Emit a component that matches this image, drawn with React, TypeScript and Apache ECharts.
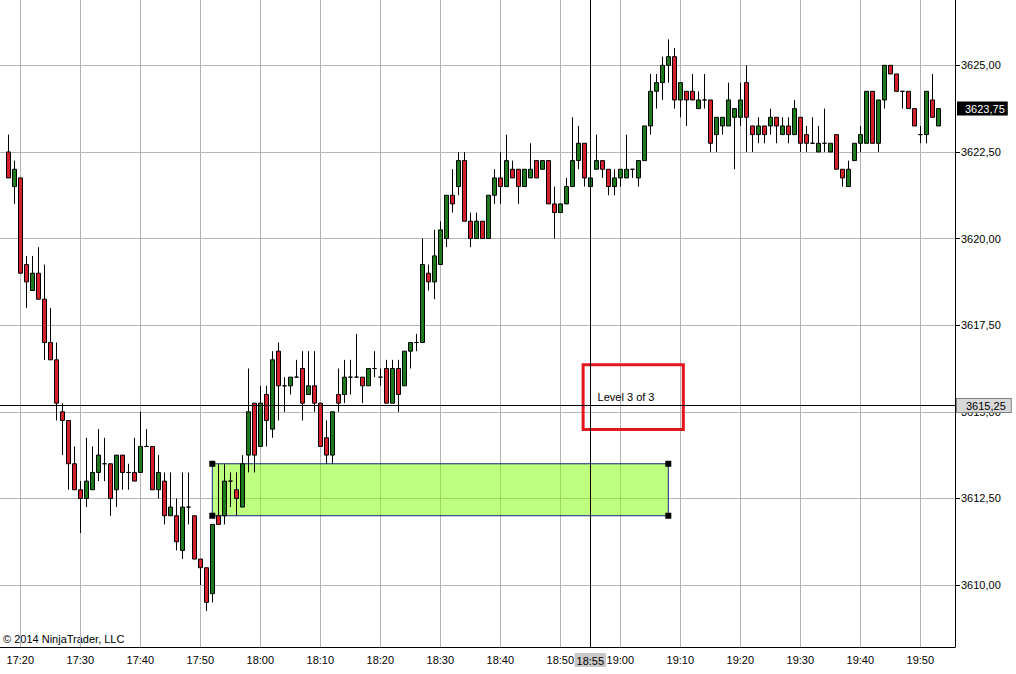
import React, { useEffect, useRef } from 'react';
import * as echarts from 'echarts';

// 1-minute bars, 17:18 .. 19:53
const times: string[] = [
  '17:18', '17:19',
  '17:20', '17:21', '17:22', '17:23', '17:24', '17:25', '17:26', '17:27', '17:28', '17:29',
  '17:30', '17:31', '17:32', '17:33', '17:34', '17:35', '17:36', '17:37', '17:38', '17:39',
  '17:40', '17:41', '17:42', '17:43', '17:44', '17:45', '17:46', '17:47', '17:48', '17:49',
  '17:50', '17:51', '17:52', '17:53', '17:54', '17:55', '17:56', '17:57', '17:58', '17:59',
  '18:00', '18:01', '18:02', '18:03', '18:04', '18:05', '18:06', '18:07', '18:08', '18:09',
  '18:10', '18:11', '18:12', '18:13', '18:14', '18:15', '18:16', '18:17', '18:18', '18:19',
  '18:20', '18:21', '18:22', '18:23', '18:24', '18:25', '18:26', '18:27', '18:28', '18:29',
  '18:30', '18:31', '18:32', '18:33', '18:34', '18:35', '18:36', '18:37', '18:38', '18:39',
  '18:40', '18:41', '18:42', '18:43', '18:44', '18:45', '18:46', '18:47', '18:48', '18:49',
  '18:50', '18:51', '18:52', '18:53', '18:54', '18:55', '18:56', '18:57', '18:58', '18:59',
  '19:00', '19:01', '19:02', '19:03', '19:04', '19:05', '19:06', '19:07', '19:08', '19:09',
  '19:10', '19:11', '19:12', '19:13', '19:14', '19:15', '19:16', '19:17', '19:18', '19:19',
  '19:20', '19:21', '19:22', '19:23', '19:24', '19:25', '19:26', '19:27', '19:28', '19:29',
  '19:30', '19:31', '19:32', '19:33', '19:34', '19:35', '19:36', '19:37', '19:38', '19:39',
  '19:40', '19:41', '19:42', '19:43', '19:44', '19:45', '19:46', '19:47', '19:48', '19:49',
  '19:50', '19:51', '19:52', '19:53',
];

const opens: number[] = [
  3622.5, 3621.5,
  3621.75, 3619.25, 3618.5, 3619.0, 3618.25, 3617.0, 3616.5, 3615.0, 3614.75, 3613.5,
  3612.75, 3612.5, 3612.75, 3613.25, 3613.5, 3613.5, 3612.75, 3613.75, 3613.25, 3613.25,
  3613.25, 3614.0, 3614.0, 3612.75, 3613.0, 3612.0, 3612.0, 3611.0, 3612.25, 3612.0,
  3610.75, 3610.5, 3609.75, 3612.0, 3612.0, 3613.0, 3612.75, 3612.25, 3613.75, 3615.25,
  3614.0, 3615.5, 3614.5, 3616.75, 3615.75, 3615.75, 3616.0, 3616.25, 3615.5, 3615.75,
  3615.25, 3614.25, 3613.75, 3615.5, 3615.5, 3616.0, 3616.0, 3616.0, 3615.75, 3616.25,
  3616.0, 3616.25, 3615.25, 3616.25, 3615.75, 3616.75, 3617.0, 3617.0, 3619.0, 3618.75,
  3619.25, 3620.0, 3621.25, 3621.5, 3622.25, 3620.5, 3620.0, 3620.5, 3620.0, 3621.25,
  3621.75, 3621.5, 3622.0, 3622.0, 3621.5, 3621.75, 3622.25, 3622.0, 3622.25, 3621.0,
  3620.75, 3621.0, 3621.5, 3622.25, 3622.75, 3621.5, 3622.0, 3622.25, 3622.0, 3621.5,
  3621.75, 3621.75, 3622.0, 3621.75, 3622.25, 3623.25, 3624.25, 3624.5, 3625.0, 3625.25,
  3624.0, 3624.25, 3624.25, 3623.75, 3624.0, 3624.0, 3623.0, 3623.25, 3623.25, 3623.5,
  3623.5, 3624.5, 3623.25, 3623.0, 3623.25, 3623.25, 3623.5, 3623.0, 3623.25, 3623.0,
  3623.5, 3623.0, 3622.75, 3622.5, 3622.75, 3622.5, 3623.0, 3622.0, 3621.5, 3622.25,
  3622.75, 3622.75, 3624.25, 3622.75, 3624.0, 3625.0, 3624.75, 3624.25, 3624.25, 3623.75,
  3623.0, 3623.0, 3624.0, 3623.25,
];

const highs: number[] = [
  3623.0, 3622.25,
  3621.75, 3619.5, 3619.5, 3619.75, 3619.25, 3618.0, 3617.0, 3615.25, 3614.75, 3614.0,
  3613.0, 3614.25, 3614.0, 3614.5, 3614.25, 3613.5, 3613.75, 3613.75, 3613.5, 3614.25,
  3615.0, 3614.5, 3614.0, 3613.75, 3613.25, 3613.25, 3612.5, 3613.25, 3613.25, 3612.0,
  3610.75, 3610.5, 3611.75, 3613.5, 3613.5, 3613.25, 3613.25, 3613.75, 3616.25, 3615.25,
  3615.75, 3615.75, 3616.75, 3617.0, 3616.0, 3616.0, 3616.5, 3616.75, 3616.75, 3616.75,
  3615.25, 3614.75, 3615.0, 3616.25, 3616.5, 3616.5, 3617.25, 3616.0, 3616.25, 3616.75,
  3616.25, 3616.5, 3616.5, 3616.5, 3616.75, 3617.0, 3617.25, 3620.0, 3619.25, 3620.25,
  3620.5, 3621.25, 3622.0, 3622.5, 3622.5, 3620.75, 3620.75, 3620.5, 3621.25, 3622.0,
  3622.5, 3623.0, 3622.25, 3622.0, 3622.0, 3622.75, 3622.25, 3622.25, 3622.25, 3621.5,
  3621.0, 3621.75, 3623.5, 3623.25, 3622.75, 3622.0, 3623.0, 3622.25, 3622.0, 3622.0,
  3622.0, 3623.0, 3622.0, 3622.25, 3623.25, 3624.75, 3624.75, 3625.25, 3625.75, 3625.5,
  3624.5, 3624.25, 3624.75, 3624.25, 3624.75, 3624.0, 3623.5, 3623.5, 3624.5, 3623.75,
  3624.5, 3625.0, 3623.25, 3623.5, 3623.25, 3623.75, 3623.5, 3623.5, 3623.5, 3624.0,
  3623.5, 3623.25, 3623.5, 3623.25, 3623.75, 3622.75, 3623.0, 3622.0, 3622.25, 3622.75,
  3623.25, 3624.25, 3624.25, 3624.0, 3625.0, 3625.0, 3624.75, 3624.25, 3624.25, 3623.75,
  3623.25, 3624.25, 3624.75, 3623.75,
];

const lows: number[] = [
  3621.75, 3621.0,
  3619.0, 3618.0, 3618.5, 3618.25, 3616.5, 3616.5, 3614.75, 3613.75, 3612.75, 3612.75,
  3611.5, 3612.25, 3612.75, 3613.0, 3613.0, 3612.0, 3612.25, 3612.75, 3612.75, 3613.0,
  3613.25, 3614.0, 3612.75, 3612.5, 3611.75, 3612.0, 3611.0, 3610.75, 3611.75, 3610.75,
  3610.0, 3609.25, 3609.5, 3611.75, 3611.75, 3612.25, 3612.0, 3612.25, 3613.25, 3613.25,
  3614.0, 3614.0, 3614.25, 3614.75, 3615.0, 3615.5, 3616.0, 3614.75, 3615.5, 3615.0,
  3614.0, 3613.5, 3613.5, 3615.0, 3615.25, 3615.5, 3616.0, 3615.25, 3615.75, 3616.0,
  3615.75, 3615.25, 3615.25, 3615.0, 3615.75, 3616.25, 3616.75, 3617.0, 3618.5, 3618.25,
  3619.25, 3619.75, 3620.75, 3621.25, 3620.5, 3619.75, 3620.0, 3620.0, 3620.0, 3621.0,
  3621.0, 3621.5, 3621.75, 3621.0, 3621.5, 3621.75, 3621.75, 3622.0, 3621.0, 3620.0,
  3620.75, 3621.0, 3621.5, 3622.0, 3621.5, 3621.5, 3622.0, 3621.75, 3621.25, 3621.25,
  3621.5, 3621.75, 3621.75, 3621.5, 3622.25, 3623.0, 3623.75, 3624.0, 3624.5, 3623.75,
  3623.5, 3623.25, 3624.0, 3623.75, 3623.75, 3622.5, 3622.5, 3623.0, 3623.25, 3622.0,
  3623.25, 3622.5, 3622.5, 3622.75, 3622.75, 3623.0, 3622.75, 3623.0, 3622.75, 3623.0,
  3622.5, 3622.5, 3622.75, 3622.5, 3622.5, 3622.5, 3622.0, 3621.5, 3621.5, 3622.25,
  3622.5, 3622.75, 3622.75, 3622.5, 3623.75, 3624.75, 3624.25, 3623.75, 3623.75, 3623.25,
  3622.75, 3622.75, 3623.5, 3623.25,
];

const closes: number[] = [
  3621.75, 3622.0,
  3619.0, 3618.75, 3619.0, 3618.25, 3617.0, 3616.5, 3615.25, 3614.75, 3613.5, 3612.75,
  3612.5, 3613.0, 3613.25, 3613.75, 3613.5, 3612.5, 3613.75, 3613.25, 3613.25, 3613.0,
  3614.0, 3614.0, 3612.75, 3613.25, 3612.0, 3612.25, 3611.25, 3612.25, 3612.25, 3610.75,
  3610.5, 3609.5, 3611.75, 3611.75, 3613.0, 3613.0, 3612.5, 3613.5, 3615.0, 3613.75,
  3615.25, 3614.75, 3616.5, 3615.75, 3615.75, 3616.0, 3616.0, 3615.25, 3615.75, 3615.25,
  3614.0, 3613.75, 3615.0, 3615.25, 3616.0, 3616.0, 3616.0, 3615.75, 3616.25, 3616.25,
  3616.0, 3615.25, 3616.25, 3615.5, 3616.75, 3617.0, 3617.0, 3619.25, 3618.75, 3619.5,
  3620.25, 3621.25, 3621.0, 3622.25, 3620.5, 3620.0, 3620.5, 3620.0, 3621.25, 3621.75,
  3621.5, 3622.25, 3621.75, 3621.5, 3622.0, 3622.0, 3621.75, 3622.25, 3621.0, 3620.75,
  3621.0, 3621.5, 3622.25, 3622.75, 3621.75, 3621.75, 3622.25, 3622.0, 3621.5, 3621.75,
  3622.0, 3622.0, 3622.0, 3622.25, 3623.25, 3624.25, 3624.5, 3625.0, 3625.25, 3624.0,
  3624.5, 3624.0, 3624.0, 3624.0, 3624.0, 3622.75, 3623.5, 3623.5, 3624.0, 3623.75,
  3624.0, 3623.5, 3623.0, 3623.25, 3623.0, 3623.5, 3623.25, 3623.25, 3623.0, 3623.75,
  3622.75, 3622.75, 3622.75, 3622.75, 3622.75, 3622.75, 3622.0, 3621.75, 3622.0, 3622.75,
  3623.0, 3624.25, 3622.75, 3624.0, 3625.0, 3624.75, 3624.25, 3624.25, 3623.75, 3623.25,
  3623.0, 3624.25, 3623.5, 3623.75,
];

const priceTicks: number[] = [3610, 3612.5, 3615, 3617.5, 3620, 3622.5, 3625];
const timeTicks: string[] = [
  '17:20', '17:30', '17:40', '17:50', '18:00', '18:10', '18:20', '18:30',
  '18:40', '18:50', '19:00', '19:10', '19:20', '19:30', '19:40', '19:50',
];

const lastPrice = 3623.75;
const crosshairTime = '18:55';
const crosshairPrice = 3615.18;
const tickSize = 0.25;

// drawn zone rectangle
const zoneStart = '17:52';
const zoneEnd = '19:08';
const zoneHigh = 3613.5;
const zoneLow = 3612.0;

// "Level 3 of 3" annotation box (time offsets in minutes, prices)
const levelBoxTimes = ['18:53', '19:10'];
const levelBoxOffsets = [0.8, 0.5];
const levelBoxPrices = [3616.36, 3614.49];

const BASE = 17 * 60 + 20;
const toT = (s: string) => {
  const [h, m] = s.split(':').map(Number);
  return h * 60 + m - BASE;
};
const fmtT = (t: number) => {
  const m = BASE + Math.round(t);
  return `${Math.floor(m / 60)}:${String(m % 60).padStart(2, '0')}`;
};
const fmtP = (v: number) => v.toFixed(2).replace('.', ',');

const FONT = 'Liberation Sans, Arial, sans-serif';

export default function App() {
  const ref = useRef<HTMLDivElement>(null);

  useEffect(() => {
    document.body.style.margin = '0';
    if (!ref.current) return;
    const chart = echarts.init(ref.current, null, { renderer: 'svg' });

    const candleData = times.map((s, i) => [toT(s), opens[i], closes[i], lows[i], highs[i]]);
    const xTickVals = timeTicks.map(toT);
    const lvlX0 = toT(levelBoxTimes[0]) + levelBoxOffsets[0];
    const lvlX1 = toT(levelBoxTimes[1]) + levelBoxOffsets[1];

    const option: any = {
      animation: false,
      backgroundColor: '#ffffff',
      textStyle: { fontFamily: FONT },
      grid: { left: 0, right: 61, top: 0, bottom: 27, containLabel: false, outerBoundsMode: 'none' },
      xAxis: {
        type: 'value',
        min: -3.383,
        max: 155.78,
        axisLine: { show: true, onZero: false, lineStyle: { color: '#000', width: 1 } },
        axisTick: { show: false, customValues: xTickVals },
        axisLabel: {
          customValues: xTickVals,
          formatter: (v: number) => fmtT(v),
          color: '#000',
          fontSize: 11,
          fontFamily: FONT,
          margin: 7,
        },
        splitLine: { show: true, lineStyle: { color: '#b4b4b4', width: 1 } },
      },
      yAxis: {
        type: 'value',
        position: 'right',
        min: 3608.212,
        max: 3626.885,
        axisLine: { show: true, onZero: false, lineStyle: { color: '#000', width: 1 } },
        axisTick: { show: true, length: 5, customValues: priceTicks, lineStyle: { color: '#000' } },
        axisLabel: {
          customValues: priceTicks,
          formatter: (v: number) => fmtP(v),
          color: '#000',
          fontSize: 11,
          fontFamily: FONT,
          margin: 6,
        },
        splitLine: { show: true, lineStyle: { color: '#b4b4b4', width: 1 } },
      },
      series: [
        {
          type: 'candlestick',
          dimensions: ['t', 'open', 'close', 'low', 'high'],
          encode: { x: 't', y: ['open', 'close', 'low', 'high'] },
          data: candleData,
          barWidth: 4,
          silent: true,
          itemStyle: {
            color: '#1c7a1c',
            color0: '#d4202a',
            borderColor: '#000',
            borderColor0: '#000',
            borderWidth: 1,
          },
          markArea: {
            silent: true,
            label: { show: false },
            data: [
              [
                {
                  xAxis: toT(zoneStart),
                  yAxis: zoneHigh,
                  itemStyle: { color: 'rgba(128,255,0,0.5)', borderColor: '#15257a', borderWidth: 1 },
                },
                { xAxis: toT(zoneEnd), yAxis: zoneLow },
              ],
              [
                {
                  xAxis: lvlX0,
                  yAxis: levelBoxPrices[0],
                  itemStyle: { color: 'rgba(255,255,255,0)', borderColor: '#e3161c', borderWidth: 3 },
                  label: {
                    show: true,
                    position: 'insideLeft',
                    distance: 16,
                    formatter: 'Level 3 of 3',
                    color: '#000',
                    fontSize: 11,
                    fontFamily: FONT,
                  },
                },
                { xAxis: lvlX1, yAxis: levelBoxPrices[1] },
              ],
            ],
          },
          markPoint: {
            silent: true,
            symbol: 'rect',
            symbolSize: 6,
            itemStyle: { color: '#000' },
            label: { show: false },
            data: [
              { coord: [toT(zoneStart), zoneHigh] },
              { coord: [toT(zoneStart), zoneLow] },
              { coord: [toT(zoneEnd), zoneHigh] },
              { coord: [toT(zoneEnd), zoneLow] },
            ],
          },
          markLine: {
            silent: true,
            symbol: ['none', 'none'],
            data: [
              {
                xAxis: toT(crosshairTime),
                lineStyle: { color: '#000', width: 1, type: 'solid' },
                label: {
                  show: true,
                  position: 'start',
                  formatter: crosshairTime,
                  backgroundColor: '#c8c8c8',
                  color: '#000',
                  fontSize: 11,
                  fontFamily: FONT,
                  padding: [2, 2, 1, 2],
                  distance: 6,
                },
              },
              {
                yAxis: crosshairPrice,
                lineStyle: { color: '#000', width: 1, type: 'solid' },
                label: {
                  show: true,
                  position: 'end',
                  formatter: fmtP(Math.round(crosshairPrice / tickSize) * tickSize),
                  backgroundColor: '#d8d8d8',
                  borderColor: '#808080',
                  borderWidth: 1,
                  color: '#000',
                  fontSize: 11,
                  fontFamily: FONT,
                  padding: [1, 5, 1, 9],
                  distance: 2,
                },
              },
              {
                yAxis: lastPrice,
                lineStyle: { color: 'rgba(0,0,0,0)', width: 0, type: 'solid' },
                label: {
                  show: true,
                  position: 'end',
                  formatter: fmtP(lastPrice),
                  backgroundColor: '#000',
                  color: '#fff',
                  fontSize: 11,
                  fontFamily: FONT,
                  padding: [2, 3, 1, 8],
                  distance: 2,
                },
              },
            ],
          },
        },
      ],
      graphic: [
        {
          type: 'text',
          x: 3,
          y: 633,
          style: {
            text: '© 2014 NinjaTrader, LLC',
            fill: '#000',
            fontSize: 11,
            fontFamily: FONT,
            verticalAlign: 'top',
          },
        },
      ],
    };

    chart.setOption(option);
    return () => chart.dispose();
  }, []);

  return (
    <div
      ref={ref}
      style={{ position: 'absolute', left: 0, top: 0, width: 1016, height: 674, background: '#fff' }}
    />
  );
}
